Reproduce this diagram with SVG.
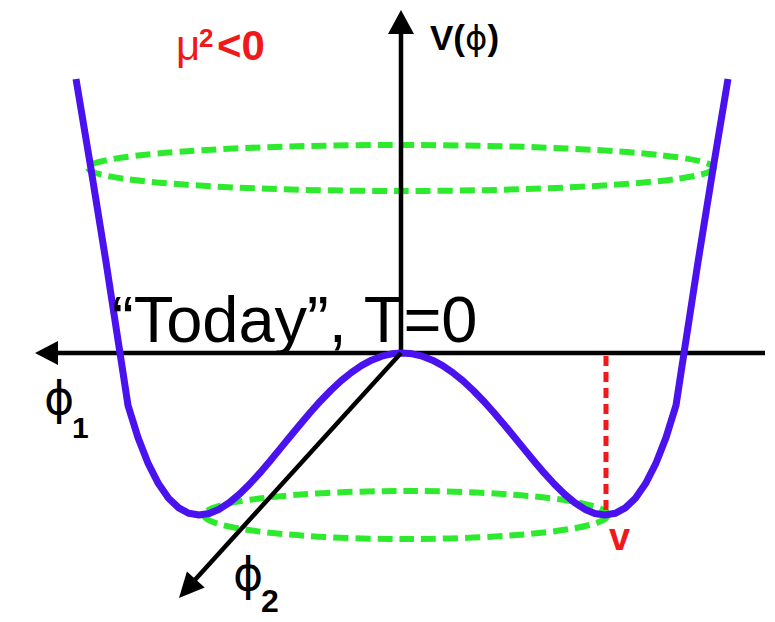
<svg xmlns="http://www.w3.org/2000/svg" width="775" height="622" viewBox="0 0 775 622">
<style>
.ax{stroke:#000;stroke-width:4.5;fill:none}
.ah{fill:#000}
.gr{fill:none;stroke:#2EEA2E;stroke-width:6;stroke-dasharray:15 7}
.rd{fill:none;stroke:#F01818;stroke-width:5;stroke-dasharray:10 6}
.cv{fill:none;stroke:#4A12EE;stroke-width:7;stroke-linejoin:round;stroke-linecap:butt}
.lb{font-family:"Liberation Sans",Arial,sans-serif;font-weight:bold}
.ph{font-family:"DejaVu Sans",sans-serif;font-weight:normal}
</style>
<rect width="775" height="622" fill="#fff"/>
<g id="ellipses">
<ellipse id="top-ring" class="gr" cx="401" cy="168" rx="313" ry="23"/>
<ellipse id="vacuum-ring" class="gr" cx="406" cy="515" rx="202" ry="24"/>
</g>
<g id="connectors">
<line class="ax" x1="765" y1="353" x2="55" y2="353"/>
<polygon class="ah" points="35,353 58,341 58,365"/>
<line class="ax" x1="401" y1="353" x2="401" y2="31"/>
<polygon class="ah" points="401,10 388,34 414,34"/>
</g>
<g id="potential">
<path class="cv" d="M76,79 L91,169 L106,262 L120,353 L128,405.4 L138.1,437.9 L148.25,463.7 L158.4,483.6 L168.55,498.2 L178.7,507.9 L188.85,513.3 L199,515 L209.15,513.5 L219.3,509.2 L229.45,502.5 L239.6,494 L249.75,484 L259.9,472.9 L270.05,461 L280.2,448.6 L290.35,436.2 L300.5,423.9 L310.65,412 L320.8,400.7 L330.95,390.3 L341.1,380.8 L351.25,372.6 L361.4,365.7 L371.55,360.2 L381.7,356.2 L391.85,353.8 L402,353 L412.15,353.8 L422.3,356.2 L432.45,360.2 L442.6,365.7 L452.75,372.6 L462.9,380.8 L473.05,390.3 L483.2,400.7 L493.35,412 L503.5,423.9 L513.65,436.2 L523.8,448.6 L533.95,461 L544.1,472.9 L554.25,484 L564.4,494 L574.55,502.5 L584.7,509.2 L594.85,513.5 L605,515 L615.15,513.3 L625.3,507.9 L635.45,498.2 L645.6,483.6 L655.75,463.7 L665.9,437.9 L676,405.4 L684,353 L698,262 L713,169 L728,79"/>
</g>
<g id="phi2-axis">
<line class="ax" x1="401" y1="353" x2="193" y2="582"/>
<polygon class="ah" points="179,598 186.9,571.4 204.7,587.6"/>
</g>
<g id="vev-line">
<line class="rd" x1="606" y1="356" x2="606" y2="515"/>
</g>
<g id="labels">
<text x="176" y="60" font-family="Liberation Sans,Arial,sans-serif" font-size="42" fill="#F01818">μ<tspan class="lb" x="199" y="47" font-size="26">2</tspan><tspan class="lb" x="217" y="60">&lt;0</tspan></text>
<text class="lb" x="430" y="50" font-size="35" fill="#000">V(<tspan class="ph" font-size="34">ϕ</tspan>)</text>
<text x="112" y="342" font-family="Liberation Sans,Arial,sans-serif" font-size="65" fill="#000">“Today”, T=0</text>
<text class="ph" x="44" y="414" font-size="46" fill="#000">ϕ<tspan class="lb" x="72" y="438" font-size="30">1</tspan></text>
<text class="ph" x="233" y="590" font-size="46" fill="#000">ϕ<tspan class="lb" x="261" y="612" font-size="32">2</tspan></text>
<text class="lb" x="609" y="550" font-size="38" fill="#F01818">v</text>
</g>
</svg>
